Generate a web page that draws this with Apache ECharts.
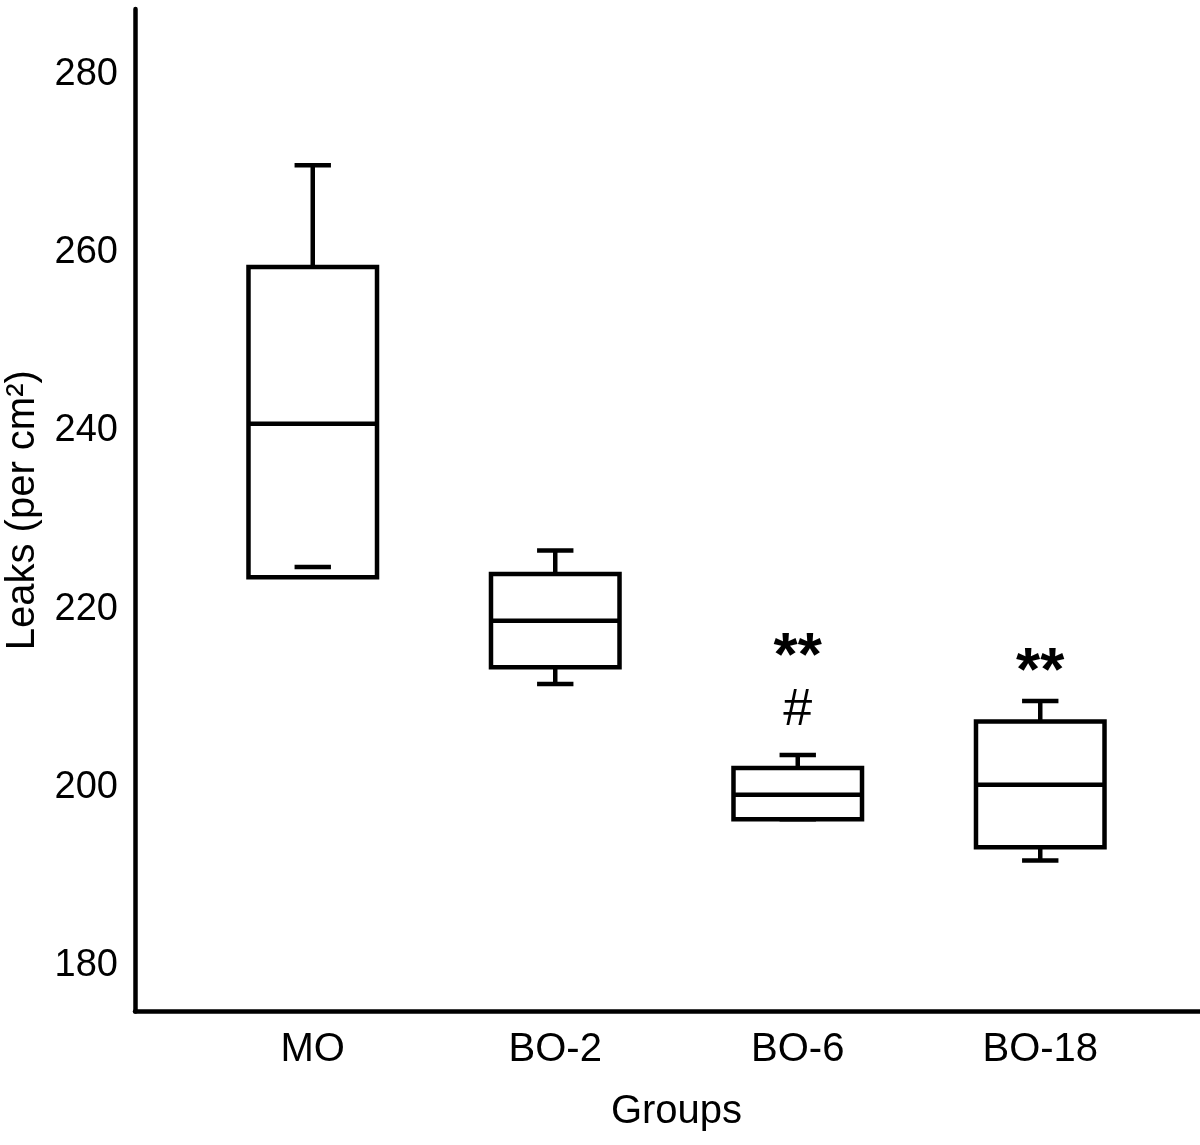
<!DOCTYPE html>
<html>
<head>
<meta charset="utf-8">
<script src="https://cdn.jsdelivr.net/npm/echarts@6/dist/echarts.min.js"></script>
<style>
  html, body { margin: 0; padding: 0; background: #fff; }
  #main { width: 1200px; height: 1145px; }
</style>
</head>
<body>
<div id="main"></div>
<script>
// groups on the x axis
var groups = ['MO', 'BO-2', 'BO-6', 'BO-18'];

// box plot values (leaks per cm2)
var whiskerHigh = [269.8, 226.6, 203.65, 209.7];
var q3 = [258.4, 223.95, 202.2, 207.4];
var median = [240.8, 218.7, 199.2, 200.3];
var q1 = [223.6, 213.5, 196.45, 193.3];
var whiskerLow = [224.75, 211.6, 196.45, 191.8];

// significance marks above the boxes
var markText = ['**', '#', '**'];
var markGroup = ['BO-6', 'BO-6', 'BO-18'];
var markValue = [214.5, 208.6, 212.9];

// y axis range and tick step
var yMin = 174.87;
var yMax = 287.34;
var yStep = 20;

var FONT = '"Liberation Sans", Arial, sans-serif';
var LW = 4.5;

var boxData = groups.map(function (g, i) {
  return [i, whiskerLow[i], q1[i], median[i], q3[i], whiskerHigh[i]];
});

var markData = markText.map(function (t, i) {
  return {
    value: [markGroup[i], markValue[i]],
    label: t === '#'
      ? { formatter: t, fontSize: 52, fontWeight: 'normal', color: '#000' }
      : { formatter: t, fontSize: 62, fontWeight: 'bold', color: '#000' }
  };
});

var myChart = echarts.init(document.getElementById('main'));

function renderBox(params, api) {
  var idx = api.value(0);
  var band = api.size([1, 0])[0];
  var half = band * 0.265;
  var capHalf = band * 0.075;
  var cx = api.coord([idx, api.value(3)])[0];
  var yLo = api.coord([idx, api.value(1)])[1];
  var yQ1 = api.coord([idx, api.value(2)])[1];
  var yMed = api.coord([idx, api.value(3)])[1];
  var yQ3 = api.coord([idx, api.value(4)])[1];
  var yHi = api.coord([idx, api.value(5)])[1];
  var ls = { stroke: '#000', lineWidth: LW, fill: null };
  var kids = [];
  // upper whisker
  kids.push({ type: 'line', shape: { x1: cx, y1: yQ3, x2: cx, y2: yHi }, style: ls });
  kids.push({ type: 'line', shape: { x1: cx - capHalf, y1: yHi, x2: cx + capHalf, y2: yHi }, style: ls });
  // lower whisker (stem only when below the box)
  if (yLo > yQ1) {
    kids.push({ type: 'line', shape: { x1: cx, y1: yQ1, x2: cx, y2: yLo }, style: ls });
  }
  kids.push({ type: 'rect', shape: { x: cx - half, y: yQ3, width: half * 2, height: yQ1 - yQ3 },
    style: { fill: '#fff', stroke: '#000', lineWidth: LW } });
  kids.push({ type: 'line', shape: { x1: cx - half, y1: yMed, x2: cx + half, y2: yMed }, style: ls });
  kids.push({ type: 'line', shape: { x1: cx - capHalf, y1: yLo, x2: cx + capHalf, y2: yLo }, style: ls, z2: 10 });
  return { type: 'group', children: kids };
}

var option = {
  backgroundColor: '#fff',
  animation: false,
  textStyle: { fontFamily: FONT, color: '#000' },
  grid: [
    { left: 135, right: 0, top: 9, bottom: 133.5, containLabel: false, outerBoundsMode: 'none' },
    { left: 191.5, right: 38.5, top: 9, bottom: 133.5, containLabel: false, outerBoundsMode: 'none' }
  ],
  xAxis: [
    {
      gridIndex: 0, type: 'value', min: 0, max: 1,
      axisLine: { show: true, lineStyle: { color: '#000', width: LW } },
      axisTick: { show: false }, axisLabel: { show: false }, splitLine: { show: false }
    },
    {
      gridIndex: 1, type: 'category', data: groups,
      axisLine: { show: false }, axisTick: { show: false }, splitLine: { show: false },
      axisLabel: { fontSize: 40, color: '#000', fontFamily: FONT, margin: 18 },
      name: 'Groups', nameLocation: 'middle', nameGap: 80,
      nameTextStyle: { fontSize: 40, color: '#000', fontFamily: FONT }
    }
  ],
  yAxis: [
    {
      gridIndex: 0, type: 'value', min: yMin, max: yMax,
      axisLine: { show: true, lineStyle: { color: '#000', width: LW } },
      axisTick: { show: false }, splitLine: { show: false },
      axisLabel: {
        fontSize: 38, color: '#000', fontFamily: FONT, margin: 17,
        formatter: function (v) {
          var r = v / yStep;
          return Math.abs(r - Math.round(r)) < 1e-6 ? String(Math.round(v)) : '';
        }
      },
      name: 'Leaks (per cm²)', nameLocation: 'middle', nameGap: 92,
      nameTextStyle: { fontSize: 40, color: '#000', fontFamily: FONT }
    },
    {
      gridIndex: 1, type: 'value', min: yMin, max: yMax, show: false,
      splitLine: { show: false }
    }
  ],
  series: [
    {
      type: 'custom',
      xAxisIndex: 1, yAxisIndex: 1,
      renderItem: renderBox,
      data: boxData,
      z: 3
    },
    {
      type: 'scatter',
      xAxisIndex: 1, yAxisIndex: 1,
      symbolSize: 0,
      itemStyle: { opacity: 1, color: '#000' },
      label: { show: true, position: 'inside', color: '#000', fontFamily: FONT },
      emphasis: { disabled: true },
      data: markData,
      z: 4
    }
  ]
};

myChart.setOption(option);
</script>
</body>
</html>
